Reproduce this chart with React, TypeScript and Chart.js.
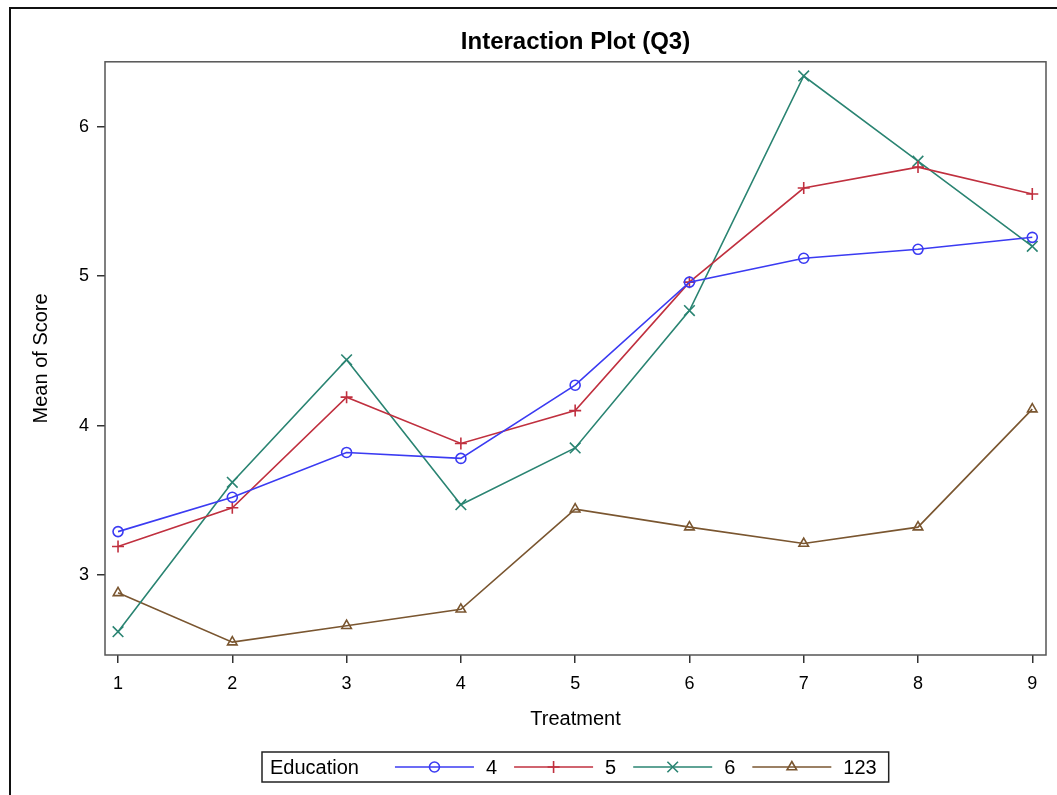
import React, { useEffect, useRef } from 'react';
import { Chart, registerables } from 'chart.js';
import { drawPoint } from 'chart.js/helpers';

Chart.register(...registerables);

const FONT = '"Liberation Sans", Arial, Helvetica, sans-serif';

const treatments = [1, 2, 3, 4, 5, 6, 7, 8, 9];
const xTickValues = [1, 2, 3, 4, 5, 6, 7, 8, 9];
const yTickValues = [3, 4, 5, 6];
const seriesLabels = ['4', '5', '6', '123'];
const edu4 = [3.29, 3.52, 3.82, 3.78, 4.27, 4.96, 5.12, 5.18, 5.26];
const edu5 = [3.19, 3.45, 4.19, 3.88, 4.1, 4.96, 5.59, 5.73, 5.55];
const edu6 = [2.62, 3.62, 4.44, 3.47, 3.85, 4.77, 6.34, 5.77, 5.2];
const edu123 = [2.88, 2.55, 2.66, 2.77, 3.44, 3.32, 3.21, 3.32, 4.11];

const seriesValues = [edu4, edu5, edu6, edu123];
const seriesColors = ['#3b3bf2', '#c0303f', '#2a8472', '#7a5630'];
const seriesMarkers = ['circle', 'cross', 'crossRot', 'triangle'];
const seriesMarkerRadius = [5, 6, 7.5, 5.5];

const legendTitle = 'Education';

const framePlugin = {
  id: 'framePlugin',
  afterDraw(chart: any) {
    const ctx = chart.ctx;
    const { left, top, right, bottom } = chart.chartArea;
    ctx.save();
    ctx.strokeStyle = '#555';
    ctx.lineWidth = 1.5;
    ctx.strokeRect(left, top, right - left, bottom - top);
    // outer page frame (left and top edges visible)
    ctx.strokeStyle = '#111';
    ctx.lineWidth = 2;
    ctx.beginPath();
    ctx.moveTo(10, chart.height);
    ctx.lineTo(10, 8);
    ctx.lineTo(chart.width, 8);
    ctx.stroke();
    ctx.restore();
  },
};

const legendPlugin = {
  id: 'eduLegend',
  afterDraw(chart: any) {
    const ctx = chart.ctx;
    const { left, right } = chart.chartArea;
    ctx.save();
    ctx.font = `20px ${FONT}`;
    const titleW = ctx.measureText(legendTitle).width;
    const lineLen = 79, gapText = 12, gapItem = 17, gapTitle = 36, padL = 8, padR = 12;
    const items = chart.data.datasets.map((ds: any) => ({ ds, w: ctx.measureText(ds.label).width }));
    const total =
      padL + titleW + gapTitle +
      items.reduce((a: number, it: any) => a + lineLen + gapText + it.w, 0) +
      gapItem * (items.length - 1) + padR;
    const cx = (left + right) / 2;
    const x0 = Math.round(cx - total / 2);
    const top = 752, h = 30, cy = top + h / 2;
    ctx.strokeStyle = '#222';
    ctx.lineWidth = 1.5;
    ctx.strokeRect(x0, top, total, h);
    ctx.fillStyle = '#000';
    ctx.textBaseline = 'middle';
    ctx.textAlign = 'left';
    ctx.fillText(legendTitle, x0 + padL, cy + 1);
    let x = x0 + padL + titleW + gapTitle;
    items.forEach(({ ds, w }: any) => {
      ctx.strokeStyle = ds.borderColor;
      ctx.lineWidth = ds.borderWidth;
      ctx.beginPath();
      ctx.moveTo(x, cy);
      ctx.lineTo(x + lineLen, cy);
      ctx.stroke();
      ctx.fillStyle = 'rgba(0,0,0,0)';
      ctx.lineWidth = ds.pointBorderWidth;
      drawPoint(ctx, { pointStyle: ds.pointStyle, radius: ds.pointRadius, borderWidth: ds.pointBorderWidth, rotation: 0 } as any, x + lineLen / 2, cy);
      ctx.fillStyle = '#000';
      ctx.fillText(ds.label, x + lineLen + gapText, cy + 1);
      x += lineLen + gapText + w + gapItem;
    });
    ctx.restore();
  },
};

export default function App() {
  const canvasRef = useRef<HTMLCanvasElement | null>(null);

  useEffect(() => {
    if (!canvasRef.current) return;
    Chart.defaults.font.family = FONT;
    const datasets = seriesLabels.map((label, i) => ({
      label,
      data: treatments.map((t, j) => ({ x: t, y: seriesValues[i][j] })),
      borderColor: seriesColors[i],
      backgroundColor: 'rgba(0,0,0,0)',
      borderWidth: 1.6,
      pointStyle: seriesMarkers[i],
      pointRadius: seriesMarkerRadius[i],
      pointBorderWidth: 1.6,
      pointBorderColor: seriesColors[i],
      pointBackgroundColor: 'rgba(0,0,0,0)',
      tension: 0,
      fill: false,
    }));

    const chart = new Chart(canvasRef.current, {
      type: 'line',
      data: { datasets },
      options: {
        animation: false,
        responsive: false,
        devicePixelRatio: 1,
        layout: { padding: { left: 0, right: 11, top: 0, bottom: 53 } },
        plugins: {
          legend: { display: false },
          tooltip: { enabled: false },
          title: {
            display: true,
            fullSize: false,
            text: 'Interaction Plot (Q3)',
            color: '#000',
            font: { family: FONT, size: 24, weight: 'bold' },
            padding: { top: 28, bottom: 5 },
          },
        },
        scales: {
          x: {
            type: 'linear',
            min: 0.886,
            max: 9.12,
            afterBuildTicks: (s: any) => {
              s.ticks = xTickValues.map((v) => ({ value: v }));
            },
            afterFit: (s: any) => {
              s.height = 87;
            },
            ticks: {
              color: '#000',
              font: { family: FONT, size: 18 },
              padding: 10,
              maxRotation: 0,
              autoSkip: false,
              callback: (v: any) => String(v),
            },
            grid: { drawOnChartArea: false, drawTicks: true, tickLength: 8, color: '#333', lineWidth: 1.5 },
            border: { display: false },
            title: {
              display: true,
              text: 'Treatment',
              color: '#000',
              font: { family: FONT, size: 20 },
              padding: { top: 4, bottom: 11 },
            },
          },
          y: {
            type: 'linear',
            min: 2.464,
            max: 6.435,
            afterBuildTicks: (s: any) => {
              s.ticks = yTickValues.map((v) => ({ value: v }));
            },
            afterFit: (s: any) => {
              s.width = 105;
            },
            ticks: {
              color: '#000',
              font: { family: FONT, size: 18 },
              padding: 8,
              callback: (v: any) => String(v),
            },
            grid: { drawOnChartArea: false, drawTicks: true, tickLength: 8, color: '#333', lineWidth: 1.5 },
            border: { display: false },
            title: {
              display: true,
              text: 'Mean of Score',
              color: '#000',
              font: { family: FONT, size: 20 },
              padding: { top: 29, bottom: 4 },
            },
          },
        },
      } as any,
      plugins: [framePlugin, legendPlugin],
    });
    return () => chart.destroy();
  }, []);

  return (
    <div style={{ position: 'fixed', left: 0, top: 0, width: 1057, height: 795, background: '#fff' }}>
      <canvas ref={canvasRef} width={1057} height={795} style={{ display: 'block', width: 1057, height: 795 }} />
    </div>
  );
}
